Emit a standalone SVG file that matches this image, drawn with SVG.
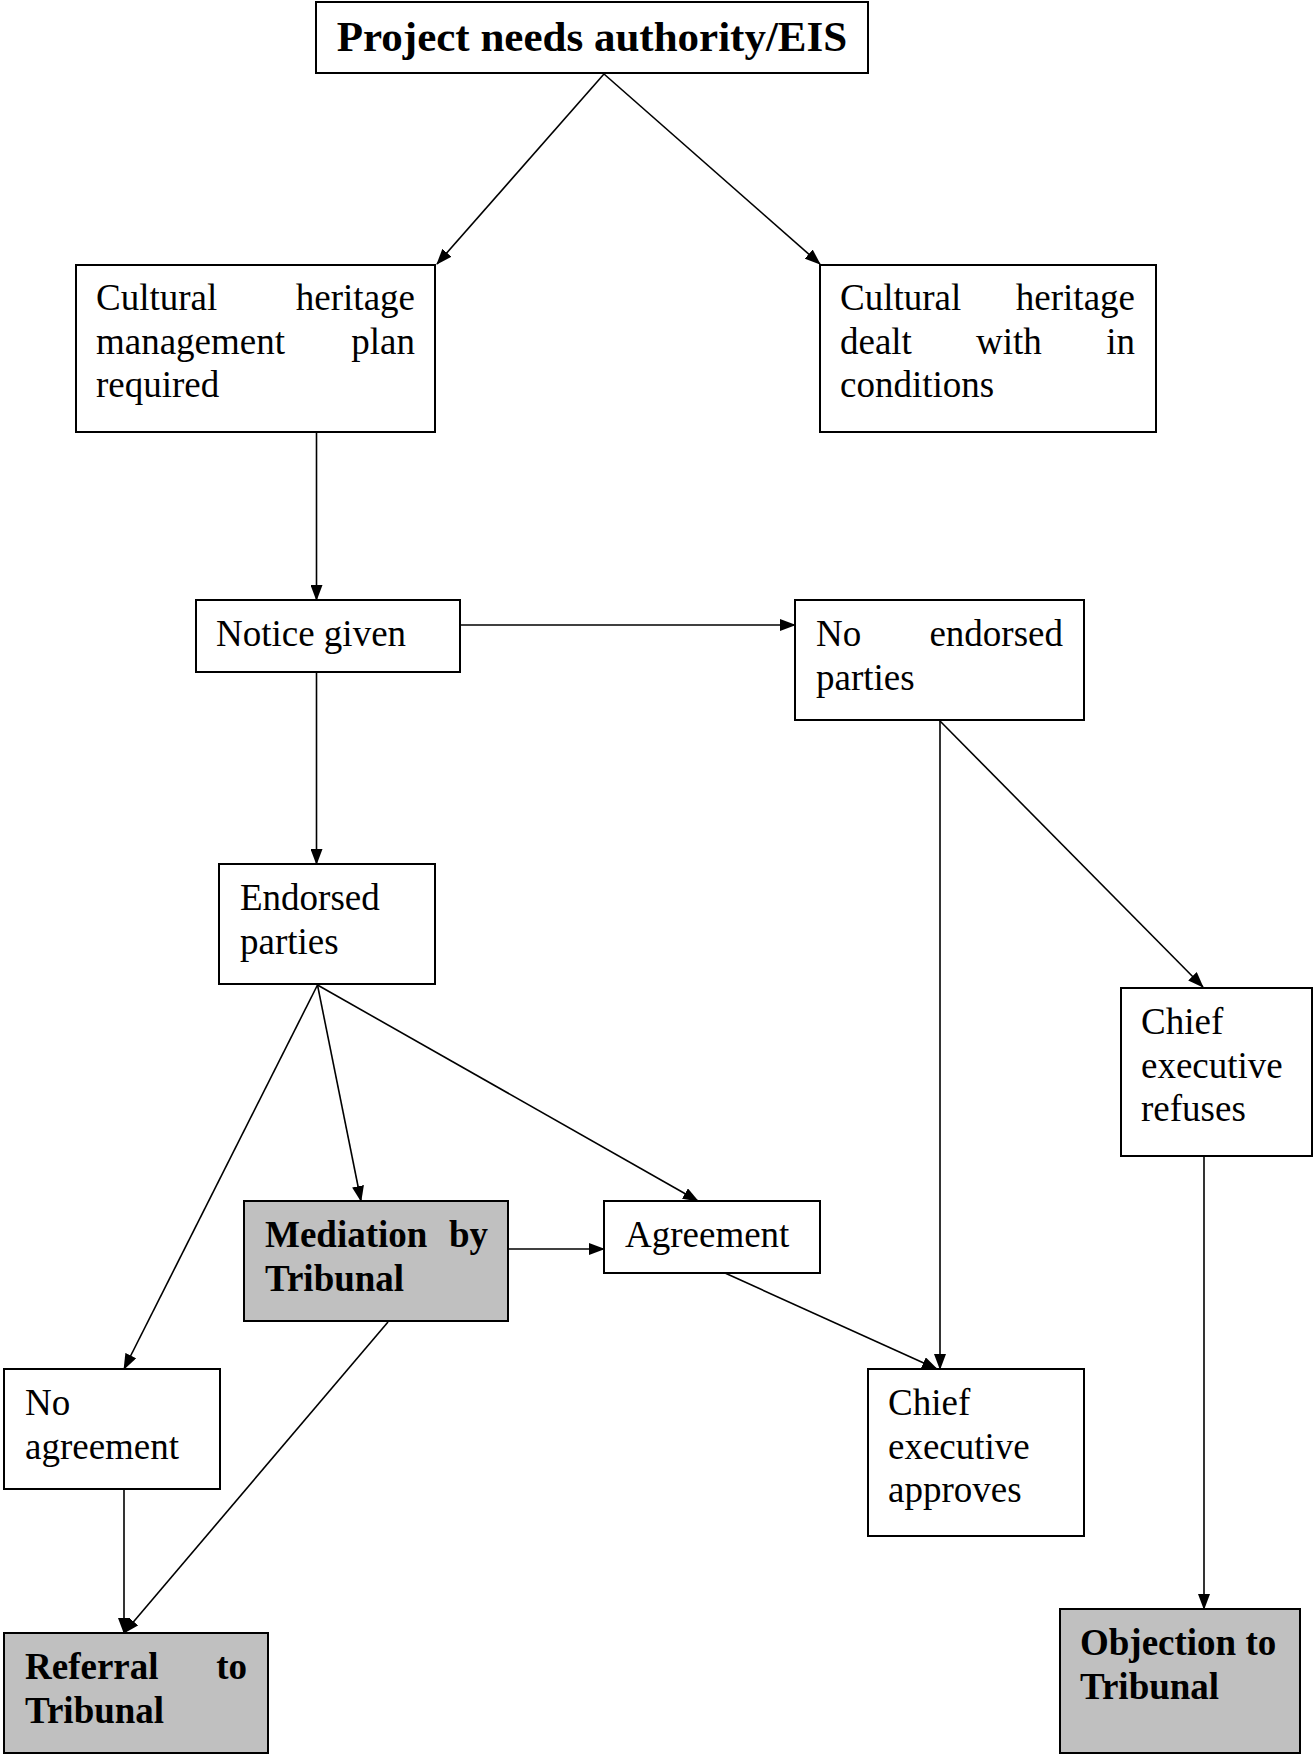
<svg xmlns="http://www.w3.org/2000/svg" width="1314" height="1754" viewBox="0 0 1314 1754">
<style>
.box{fill:#ffffff;stroke:#000;stroke-width:2}
.grey{fill:#c0c0c0;stroke:#000;stroke-width:2}
.t{font-family:"Liberation Serif","Times New Roman",serif;font-size:37px;fill:#000}
.b{font-weight:bold}
.title{font-family:"Liberation Serif","Times New Roman",serif;font-size:43px;font-weight:bold;fill:#000}
.e{text-anchor:end}
.c{stroke:#000;stroke-width:1.6;fill:none;marker-end:url(#ah)}
</style>
<defs>
<marker id="ah" markerUnits="userSpaceOnUse" markerWidth="16" markerHeight="12" refX="15" refY="6" orient="auto">
<path d="M0,0 L16,6 L0,12 Z" fill="#000"/>
</marker>
</defs>
<rect width="1314" height="1754" fill="#fff"/>
<g id="connectors">
<line class="c" x1="604" y1="74" x2="437" y2="264"/>
<line class="c" x1="604" y1="74" x2="820" y2="264"/>
<line class="c" x1="316.5" y1="433" x2="316.5" y2="600"/>
<line class="c" x1="460" y1="625" x2="795" y2="625"/>
<line class="c" x1="316.5" y1="673" x2="316.5" y2="864"/>
<line class="c" x1="940" y1="721" x2="940" y2="1369"/>
<line class="c" x1="940" y1="721" x2="1203" y2="987"/>
<line class="c" x1="317.5" y1="985" x2="361" y2="1201"/>
<line class="c" x1="317.5" y1="985" x2="698" y2="1201"/>
<line class="c" x1="317.5" y1="985" x2="124" y2="1369"/>
<line class="c" x1="508" y1="1249" x2="604" y2="1249"/>
<line class="c" x1="725" y1="1273" x2="937" y2="1369"/>
<line class="c" x1="388" y1="1322" x2="124" y2="1633"/>
<line class="c" x1="124" y1="1490" x2="124" y2="1633"/>
<line class="c" x1="1204" y1="1156" x2="1204" y2="1609"/>
</g>
<g id="n_project">
<rect class="box" x="316" y="2" width="552" height="71"/>
<text class="title" x="592" y="51" text-anchor="middle">Project needs authority/EIS</text>
</g>
<g id="n_chmp">
<rect class="box" x="76" y="265" width="359" height="167"/>
<text class="t" x="96" y="310">Cultural</text>
<text class="t e" x="415" y="310">heritage</text>
<text class="t" x="96" y="353.5">management</text>
<text class="t e" x="415" y="353.5">plan</text>
<text class="t" x="96" y="397">required</text>
</g>
<g id="n_conditions">
<rect class="box" x="820" y="265" width="336" height="167"/>
<text class="t" x="840" y="310">Cultural</text>
<text class="t e" x="1135" y="310">heritage</text>
<text class="t" x="840" y="353.5">dealt</text>
<text class="t" x="976" y="353.5">with</text>
<text class="t e" x="1135" y="353.5">in</text>
<text class="t" x="840" y="397">conditions</text>
</g>
<g id="n_notice">
<rect class="box" x="196" y="600" width="264" height="72"/>
<text class="t" x="216" y="646">Notice given</text>
</g>
<g id="n_noendorsed">
<rect class="box" x="795" y="600" width="289" height="120"/>
<text class="t" x="816" y="646">No</text>
<text class="t e" x="1063" y="646">endorsed</text>
<text class="t" x="816" y="689.5">parties</text>
</g>
<g id="n_endorsed">
<rect class="box" x="219" y="864" width="216" height="120"/>
<text class="t" x="240" y="910">Endorsed</text>
<text class="t" x="240" y="953.5">parties</text>
</g>
<g id="n_refuses">
<rect class="box" x="1121" y="988" width="191" height="168"/>
<text class="t" x="1141" y="1034">Chief</text>
<text class="t" x="1141" y="1077.5">executive</text>
<text class="t" x="1141" y="1121">refuses</text>
</g>
<g id="n_mediation">
<rect class="grey" x="244" y="1201" width="264" height="120"/>
<text class="t b" x="265" y="1247">Mediation</text>
<text class="t b e" x="488" y="1247">by</text>
<text class="t b" x="265" y="1290.5">Tribunal</text>
</g>
<g id="n_agreement">
<rect class="box" x="604" y="1201" width="216" height="72"/>
<text class="t" x="625" y="1247">Agreement</text>
</g>
<g id="n_noagreement">
<rect class="box" x="4" y="1369" width="216" height="120"/>
<text class="t" x="25" y="1415">No</text>
<text class="t" x="25" y="1458.5">agreement</text>
</g>
<g id="n_approves">
<rect class="box" x="868" y="1369" width="216" height="167"/>
<text class="t" x="888" y="1415">Chief</text>
<text class="t" x="888" y="1458.5">executive</text>
<text class="t" x="888" y="1502">approves</text>
</g>
<g id="n_referral">
<rect class="grey" x="4" y="1633" width="264" height="120"/>
<text class="t b" x="25" y="1679">Referral</text>
<text class="t b e" x="247" y="1679">to</text>
<text class="t b" x="25" y="1722.5">Tribunal</text>
</g>
<g id="n_objection">
<rect class="grey" x="1060" y="1609" width="240" height="144"/>
<text class="t b" x="1080" y="1655">Objection to</text>
<text class="t b" x="1080" y="1698.5">Tribunal</text>
</g>
</svg>
